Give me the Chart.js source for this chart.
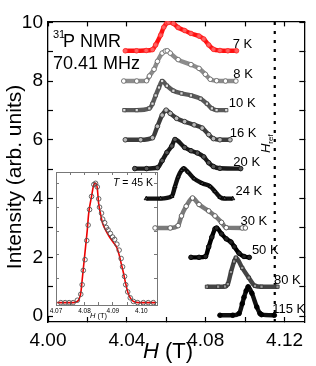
<!DOCTYPE html>
<html><head><meta charset="utf-8">
<script src="https://cdn.jsdelivr.net/npm/chart.js@4.4.0/dist/chart.umd.min.js"></script>
<style>
html,body{margin:0;padding:0;background:#fff;}
#wrap{position:relative;width:316px;height:366px;overflow:hidden;}
#inset{position:absolute;left:44px;top:165px;}
#main{position:absolute;left:0;top:0;}
</style></head><body>
<div id="wrap"><canvas id="inset" width="124" height="158"></canvas><canvas id="main" width="316" height="366"></canvas></div>
<script>
// ---------- data ----------
const temps = ['7 K','8 K','10 K','16 K','20 K','24 K','30 K','50 K','80 K','115 K'];
const offsets = [9,8,7,6,5,4,3,2,1,0];
const H7 = [4.0392,4.0449,4.0498,4.0530,4.0546,4.0571,4.0587,4.0603,4.0611,4.0636,4.0660,4.0693,4.0725,4.0766,4.0790,4.0815,4.0839,4.0872,4.0912,4.0956];
const I7 = [0.03,0.03,0.04,0.07,0.23,0.56,0.83,0.98,1.00,0.96,0.82,0.72,0.62,0.53,0.43,0.23,0.08,0.04,0.03,0.03];
const H8 = [4.0384,4.0450,4.0500,4.0514,4.0538,4.0555,4.0579,4.0595,4.0605,4.0620,4.0660,4.0725,4.0766,4.0798,4.0823,4.0855,4.0900,4.0953];
const I8 = [0.00,0.00,0.01,0.17,0.40,0.67,0.95,1.02,1.03,0.95,0.73,0.56,0.43,0.23,0.06,0.01,0.00,0.00];
const H10 = [4.0387,4.0450,4.0514,4.0530,4.0546,4.0563,4.0579,4.0603,4.0636,4.0677,4.0725,4.0774,4.0806,4.0831,4.0855,4.0904];
const I10 = [0.01,0.01,0.07,0.23,0.51,0.78,1.00,0.84,0.67,0.58,0.51,0.40,0.23,0.07,0.01,0.01];
const H16 = [4.0392,4.0470,4.0530,4.0555,4.0579,4.0599,4.0620,4.0652,4.0693,4.0741,4.0782,4.0815,4.0839,4.0872,4.0923];
const I16 = [0.00,0.00,0.07,0.46,0.84,1.01,0.90,0.73,0.62,0.51,0.40,0.18,0.04,0.00,0.00];
const H20 = [4.0440,4.0500,4.0555,4.0579,4.0603,4.0628,4.0644,4.0693,4.0725,4.0758,4.0790,4.0815,4.0839,4.0872,4.0977];
const I20 = [0.02,0.02,0.05,0.29,0.57,0.79,1.01,0.74,0.63,0.55,0.42,0.22,0.09,0.03,0.02];
const H24 = [4.0498,4.0571,4.0628,4.0644,4.0660,4.0677,4.0688,4.0709,4.0741,4.0782,4.0823,4.0847,4.0872,4.0896,4.0937];
const I24 = [0.00,0.00,0.08,0.41,0.74,0.96,1.03,0.91,0.68,0.52,0.41,0.24,0.05,0.00,0.00];
const H30 = [4.0543,4.0620,4.0660,4.0677,4.0701,4.0733,4.0766,4.0815,4.0847,4.0880,4.0904,4.0985,4.1001];
const I30 = [0.00,0.00,0.08,0.41,0.74,1.02,0.80,0.58,0.41,0.19,0.01,0.00,0.00];
const H50 = [4.0725,4.0766,4.0799,4.0815,4.0831,4.0847,4.0855,4.0880,4.0904,4.0928,4.0945,4.0969,4.0994,4.1021];
const I50 = [0.00,0.00,0.03,0.36,0.69,0.97,1.00,0.80,0.63,0.52,0.36,0.14,0.03,0.00];
const H80 = [4.0806,4.0863,4.0898,4.0912,4.0928,4.0944,4.0953,4.0985,4.1018,4.1050,4.1083,4.1164];
const I80 = [0.00,0.00,0.01,0.09,0.50,0.86,0.99,0.64,0.31,0.03,0.00,0.00];
const H115 = [4.0872,4.0937,4.0969,4.0985,4.0994,4.1005,4.1015,4.1034,4.1059,4.1075,4.1083,4.1148];
const I115 = [0.03,0.03,0.09,0.42,0.64,0.86,1.00,0.78,0.31,0.09,0.05,0.03];
const fieldSets = [H7,H8,H10,H16,H20,H24,H30,H50,H80,H115];
const intensitySets = [I7,I8,I10,I16,I20,I24,I30,I50,I80,I115];
const Href = 4.115;
const xTicks = [4.00,4.02,4.04,4.06,4.08,4.10,4.12];
const xTickLabels = ['4.00','','4.04','','4.08','','4.12'];
const yTicks = [0,1,2,3,4,5,6,7,8,9,10];
const yTickLabels = ['0','','2','','4','','6','','8','','10'];
// inset (T = 45 K)
const insetH = [4.0717,4.0732,4.0746,4.0760,4.0775,4.0787,4.0792,4.0796,4.0802,4.0808,4.0813,4.0818,4.0825,4.0833,4.0839,4.0845,4.0850,4.0853,4.0860,4.0864,4.0871,4.0877,4.0883,4.0891,4.0899,4.0906,4.0914,4.0922,4.0929,4.0934,4.0941,4.0945,4.0952,4.0961,4.0972,4.0987,4.1007,4.1024,4.1042];
const insetI = [0.00,0.00,0.00,0.00,0.02,0.07,0.15,0.27,0.36,0.52,0.65,0.78,0.89,0.99,1.00,0.97,0.87,0.80,0.75,0.70,0.67,0.63,0.61,0.58,0.55,0.53,0.49,0.44,0.37,0.30,0.22,0.15,0.09,0.04,0.01,0.00,0.00,0.00,0.00];
const fitH = [4.0705,4.0760,4.0775,4.0787,4.0792,4.0798,4.0804,4.0810,4.0815,4.0825,4.0833,4.0839,4.0845,4.0850,4.0856,4.0862,4.0868,4.0874,4.0883,4.0891,4.0903,4.0914,4.0922,4.0929,4.0937,4.0943,4.0952,4.0961,4.0972,4.0989,4.1050];
const fitI = [0.00,0.00,0.01,0.08,0.19,0.33,0.47,0.61,0.75,0.89,0.99,1.00,0.96,0.83,0.75,0.68,0.64,0.61,0.57,0.54,0.50,0.46,0.40,0.33,0.25,0.18,0.09,0.04,0.01,0.00,0.00];
const insetXTicks = [4.07,4.075,4.08,4.085,4.09,4.095,4.10,4.105];
const insetXTickLabels = ['4.07','','4.08','','4.09','','4.10',''];
const insetYTicks = [0,0.2,0.4,0.6,0.8,1.0];

// ---------- styles ----------
const FONT = "'Liberation Sans', Arial, sans-serif";
const seriesStyle = [
  {line:'#ff1010', point:'#ff2a2a', fill:'#ff6060', ps:'circle'},
  {line:'#8c8c8c', point:'#6a6a6a', fill:'#ffffff', ps:'circle'},
  {line:'#5a5a5a', point:'#444444', fill:'#dddddd', ps:'rect'},
  {line:'#3c3c3c', point:'#333333', fill:'#bbbbbb', ps:'circle'},
  {line:'#1a1a1a', point:'#111111', fill:'#555555', ps:'circle'},
  {line:'#111111', point:'#000000', fill:'#444444', ps:'triangle'},
  {line:'#7a7a7a', point:'#555555', fill:'#ffffff', ps:'circle'},
  {line:'#000000', point:'#000000', fill:'#222222', ps:'circle'},
  {line:'#444444', point:'#333333', fill:'#999999', ps:'rect'},
  {line:'#111111', point:'#000000', fill:'#000000', ps:'circle'}
];

const datasets = fieldSets.map((H, i) => ({
  label: temps[i],
  data: H.map((h, j) => ({x: h, y: offsets[i] + intensitySets[i][j]})),
  borderColor: seriesStyle[i].line,
  borderWidth: 4.4,
  pointRadius: 2.3,
  pointStyle: seriesStyle[i].ps,
  pointBorderColor: seriesStyle[i].point,
  pointBackgroundColor: seriesStyle[i].fill,
  pointBorderWidth: 0.9,
  cubicInterpolationMode: 'monotone',
  fill: false
}));
datasets.push({
  label: 'Href',
  data: [{x: Href, y: -0.2}, {x: Href, y: 10.03}],
  borderColor: '#000', borderWidth: 2.2, borderDash: [3, 6], pointRadius: 0, fill: false
});

function fixTicks(vals){ return s => { s.ticks = vals.map(v => ({value: v})); }; }

const textPlugin = {
  id: 'texts',
  afterDraw(chart, args, opts) {
    const {ctx, chartArea: ca, scales: {x, y}} = chart;
    ctx.save();
    ctx.fillStyle = '#000';
    ctx.textBaseline = 'alphabetic';
    ctx.textAlign = 'left';
    ctx.font = '11px ' + FONT;
    ctx.fillText('31', ca.left + 5, ca.top + 17);
    ctx.font = '18px ' + FONT;
    ctx.fillText('P NMR', ca.left + 15, ca.top + 26);
    ctx.fillText('70.41 MHz', ca.left + 5, ca.top + 48);
    ctx.font = '13px ' + FONT;
    ctx.textBaseline = 'middle';
    temps.forEach((t, i) => {
      ctx.fillText(t, x.getPixelForValue(opts.labelX[i]), y.getPixelForValue(offsets[i] + 0.23));
    });
    ctx.save();
    ctx.translate(x.getPixelForValue(Href) - 5, y.getPixelForValue(5.55));
    ctx.rotate(-Math.PI / 2);
    ctx.textBaseline = 'alphabetic';
    ctx.font = 'italic 13px ' + FONT;
    ctx.fillText('H', 0, 0);
    const w = ctx.measureText('H').width;
    ctx.font = '8px ' + FONT;
    ctx.fillText('ref', w, 3);
    ctx.restore();
    ctx.textBaseline = 'middle';
    ctx.font = 'italic 22px ' + FONT;
    const hx = 143;
    ctx.fillText('H', hx, 352);
    const hw = ctx.measureText('H').width;
    ctx.font = '22px ' + FONT;
    ctx.fillText(' (T)', hx + hw, 352);
    ctx.save();
    ctx.translate(15, 177);
    ctx.rotate(-Math.PI / 2);
    ctx.textAlign = 'center';
    ctx.font = '21px ' + FONT;
    ctx.fillText('Intensity (arb. units)', 0, 0);
    ctx.restore();
    ctx.restore();
  }
};

const tickFont = {family: FONT, size: 19};
const gridIn = {drawOnChartArea: false, tickLength: -5, tickColor: '#000', tickWidth: 1.2};
const border = {display: true, color: '#000', width: 1.3};

new Chart(document.getElementById('main'), {
  type: 'line',
  data: {datasets},
  options: {
    responsive: false, animation: false, devicePixelRatio: 1,
    layout: {padding: 0},
    plugins: {legend: {display: false}, tooltip: {enabled: false},
      texts: {labelX: [4.0937,4.0940,4.0917,4.0922,4.0940,4.0951,4.0976,4.1034,4.1146,4.1137]}},
    scales: {
      x: {type: 'linear', position: 'bottom', min: 4.0, max: 4.13,
        afterBuildTicks: fixTicks(xTicks), afterFit: s => { s.height = 44; },
        ticks: {callback: (v, i) => xTickLabels[i], autoSkip: false, maxRotation: 0, font: tickFont, color: '#000', padding: 12},
        grid: gridIn, border},
      x2: {type: 'linear', position: 'top', min: 4.0, max: 4.13,
        afterBuildTicks: fixTicks(xTicks), afterFit: s => { s.height = 14; },
        ticks: {display: false}, grid: gridIn, border},
      y: {type: 'linear', position: 'left', min: -0.2, max: 10.03,
        afterBuildTicks: fixTicks(yTicks), afterFit: s => { s.width = 48; },
        ticks: {callback: (v, i) => yTickLabels[i], autoSkip: false, font: tickFont, color: '#000', padding: 10},
        grid: gridIn, border},
      y2: {type: 'linear', position: 'right', min: -0.2, max: 10.03,
        afterBuildTicks: fixTicks(yTicks), afterFit: s => { s.width = 3; },
        ticks: {display: false}, grid: gridIn, border}
    }
  },
  plugins: [textPlugin]
});

// ---------- inset ----------
const insetText = {
  id: 'insetText',
  afterDraw(chart) {
    const {ctx, chartArea: ca} = chart;
    ctx.save();
    ctx.fillStyle = '#000';
    ctx.textBaseline = 'middle';
    ctx.font = 'italic 10.5px ' + FONT;
    const tx = ca.right - 44;
    ctx.fillText('T', tx, ca.top + 11);
    const tw = ctx.measureText('T').width;
    ctx.font = '10.5px ' + FONT;
    ctx.fillText(' = 45 K', tx + tw, ca.top + 11);
    ctx.font = 'italic 7.5px ' + FONT;
    const hx = ca.left + 34;
    ctx.fillText('H', hx, ca.bottom + 11);
    const hw = ctx.measureText('H').width;
    ctx.font = '7.5px ' + FONT;
    ctx.fillText(' (T)', hx + hw, ca.bottom + 11);
    ctx.restore();
  }
};
const inGrid = {drawOnChartArea: false, tickLength: -3, tickColor: '#555', tickWidth: 0.8};
const inBorder = {display: true, color: '#777', width: 1};
new Chart(document.getElementById('inset'), {
  type: 'line',
  data: {datasets: [
    {label: 'data', data: insetH.map((h, j) => ({x: h, y: insetI[j]})), showLine: false,
      pointRadius: 2.3, pointBorderColor: '#555', pointBackgroundColor: 'rgba(255,255,255,0)', pointBorderWidth: 0.9},
    {label: 'fit', data: fitH.map((h, j) => ({x: h, y: fitI[j]})), borderColor: '#ee0000', borderWidth: 1.6,
      pointRadius: 0, cubicInterpolationMode: 'monotone', fill: false}
  ]},
  options: {
    responsive: false, animation: false, devicePixelRatio: 1,
    layout: {padding: 0},
    plugins: {legend: {display: false}, tooltip: {enabled: false}},
    scales: {
      x: {type: 'linear', position: 'bottom', min: 4.07, max: 4.1055,
        afterBuildTicks: fixTicks(insetXTicks), afterFit: s => { s.height = 18; },
        ticks: {callback: (v, i) => insetXTickLabels[i], autoSkip: false, maxRotation: 0,
          font: {family: FONT, size: 6.5}, color: '#000', padding: 5},
        grid: inGrid, border: inBorder},
      x2: {type: 'linear', position: 'top', min: 4.07, max: 4.1055,
        afterBuildTicks: fixTicks(insetXTicks), afterFit: s => { s.height = 7; },
        ticks: {display: false}, grid: inGrid, border: inBorder},
      y: {type: 'linear', position: 'left', min: -0.02, max: 1.095,
        afterBuildTicks: fixTicks(insetYTicks), afterFit: s => { s.width = 12; },
        ticks: {display: false}, grid: inGrid, border: inBorder},
      y2: {type: 'linear', position: 'right', min: -0.02, max: 1.095,
        afterBuildTicks: fixTicks(insetYTicks), afterFit: s => { s.width = 11; },
        ticks: {display: false}, grid: inGrid, border: inBorder}
    }
  },
  plugins: [insetText]
});
</script></body></html>
